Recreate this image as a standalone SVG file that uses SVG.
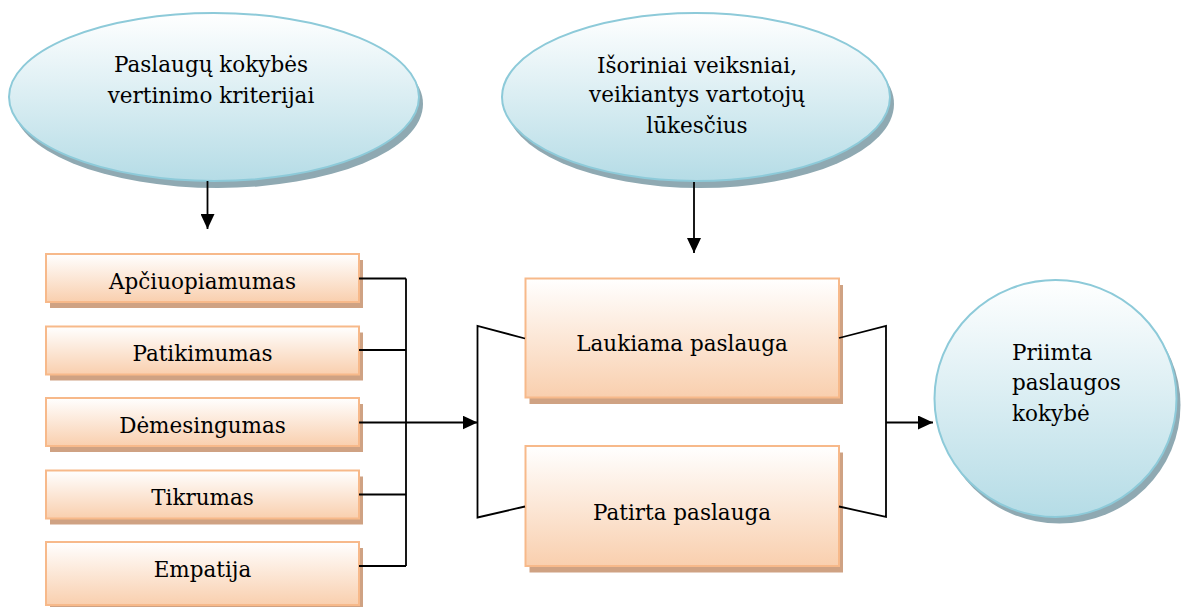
<svg xmlns="http://www.w3.org/2000/svg" width="1184" height="607" viewBox="0 0 1184 607">
  <defs>
    <linearGradient id="gBlue" x1="0" y1="0" x2="0" y2="1">
      <stop offset="0" stop-color="#ffffff"/>
      <stop offset="1" stop-color="#b5dce6"/>
    </linearGradient>
    <linearGradient id="gOrange" x1="0" y1="0" x2="0" y2="1">
      <stop offset="0" stop-color="#ffffff"/>
      <stop offset="1" stop-color="#f9cfae"/>
    </linearGradient>
    <marker id="arrow" viewBox="0 0 15 14" refX="15" refY="7" markerWidth="15" markerHeight="14" markerUnits="userSpaceOnUse" orient="auto">
      <path d="M0,0 L15,7 L0,14 z" fill="#000"/>
    </marker>
  </defs>
  <style>
    .oval { fill: url(#gBlue); stroke: #8dcad9; stroke-width: 2; }
    .ovalShadow { fill: #8fa9b2; }
    .box { fill: url(#gOrange); stroke: #f7b98a; stroke-width: 2; }
    .boxShadow { fill: #cfa283; }
    .t { font-family: 'DejaVu Serif', 'Liberation Serif', serif; font-size: 21.5px; fill: #000; }
    .c { text-anchor: middle; }
    .line { fill: none; stroke: #000; stroke-width: 1.8; }
  </style>
  <rect width="1184" height="607" fill="#ffffff"/>

  <g id="node-kriterijai">
    <ellipse class="ovalShadow" cx="218" cy="104" rx="205" ry="84"/>
    <ellipse class="oval" cx="214" cy="97" rx="205" ry="84"/>
    <text class="t c" x="211" y="72">Paslaugų kokybės</text>
    <text class="t c" x="211" y="103">vertinimo kriterijai</text>
  </g>

  <g id="node-isoriniai">
    <ellipse class="ovalShadow" cx="700" cy="104" rx="194" ry="84"/>
    <ellipse class="oval" cx="696" cy="97" rx="194" ry="84"/>
    <text class="t c" x="697" y="73">Išoriniai veiksniai,</text>
    <text class="t c" x="697" y="102">veikiantys vartotojų</text>
    <text class="t c" x="697" y="133">lūkesčius</text>
  </g>

  <g id="node-apciuopiamumas">
    <rect class="boxShadow" x="50" y="260" width="313" height="48"/>
    <rect class="box" x="46" y="254" width="313" height="48"/>
    <text class="t c" x="202.5" y="288.5">Apčiuopiamumas</text>
  </g>
  <g id="node-patikimumas">
    <rect class="boxShadow" x="50" y="332.5" width="313" height="48"/>
    <rect class="box" x="46" y="326.5" width="313" height="48"/>
    <text class="t c" x="202.5" y="360.5">Patikimumas</text>
  </g>
  <g id="node-demesingumas">
    <rect class="boxShadow" x="50" y="404" width="313" height="48"/>
    <rect class="box" x="46" y="398" width="313" height="48"/>
    <text class="t c" x="202.5" y="432.5">Dėmesingumas</text>
  </g>
  <g id="node-tikrumas">
    <rect class="boxShadow" x="50" y="476.5" width="313" height="48"/>
    <rect class="box" x="46" y="470.5" width="313" height="48"/>
    <text class="t c" x="202.5" y="505">Tikrumas</text>
  </g>
  <g id="node-empatija">
    <rect class="boxShadow" x="50" y="548" width="313" height="63"/>
    <rect class="box" x="46" y="542" width="313" height="63"/>
    <text class="t c" x="202.5" y="577">Empatija</text>
  </g>

  <g id="node-laukiama">
    <rect class="boxShadow" x="529.5" y="285" width="313.5" height="119"/>
    <rect class="box" x="525.5" y="278.5" width="313.5" height="119"/>
    <text class="t c" x="682" y="351">Laukiama paslauga</text>
  </g>
  <g id="node-patirta">
    <rect class="boxShadow" x="529.5" y="452.5" width="313.5" height="120"/>
    <rect class="box" x="525.5" y="446" width="313.5" height="120"/>
    <text class="t c" x="682" y="519.5">Patirta paslauga</text>
  </g>

  <g id="node-priimta">
    <ellipse class="ovalShadow" cx="1059.5" cy="405" rx="121" ry="118.5"/>
    <ellipse class="oval" cx="1055.5" cy="398.5" rx="121" ry="118.5"/>
    <text class="t" x="1012" y="360">Priimta</text>
    <text class="t" x="1012" y="390">paslaugos</text>
    <text class="t" x="1012" y="421">kokybė</text>
  </g>

  <g id="connectors">
    <path class="line" d="M207.5 181 V229" marker-end="url(#arrow)"/>
    <path class="line" d="M694 182 V253" marker-end="url(#arrow)"/>
    <path class="line" d="M359 278.5 H406 M359 350 H406 M359 494.5 H406 M359 566 H406 M406 278.5 V566"/>
    <path class="line" d="M359 422.5 H477.5" marker-end="url(#arrow)"/>
    <path class="line" d="M525 338.5 L477.5 326 V517.5 L525 506.5"/>
    <path class="line" d="M839 338 L886 326 V517 L839 506.5"/>
    <path class="line" d="M886 422.5 H933" marker-end="url(#arrow)"/>
  </g>
</svg>
